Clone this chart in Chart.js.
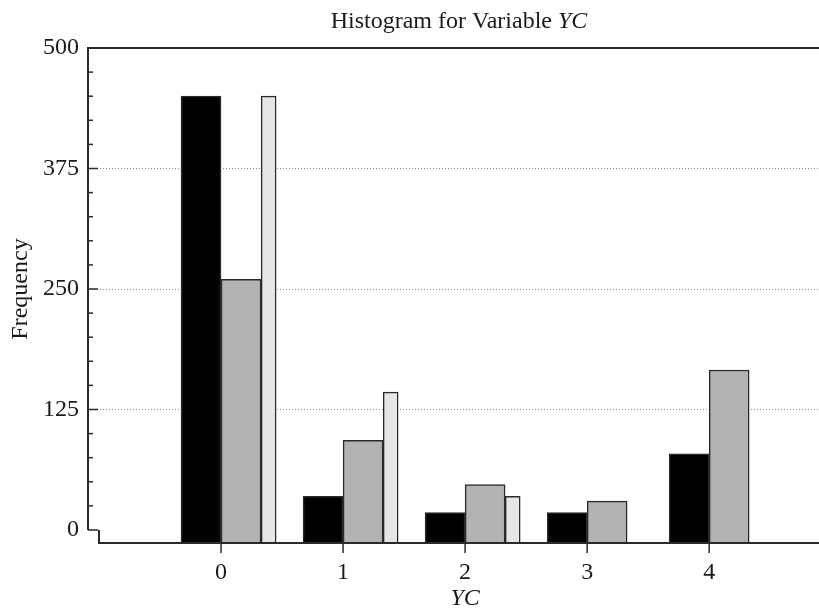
<!DOCTYPE html>
<html>
<head>
<meta charset="utf-8">
<script src="https://cdn.jsdelivr.net/npm/chart.js@4.4.0/dist/chart.umd.min.js"></script>
<style>
  html, body { margin: 0; padding: 0; background: #fff; }
  #wrap { width: 819px; height: 609px; }
</style>
</head>
<body>
<div id="wrap"><canvas id="hist" width="819" height="609"></canvas></div>
<script>
const categories = [0, 1, 2, 3, 4];
const firstSeries = [450, 35, 18, 18, 79];
const secondSeries = [260, 93, 47, 30, 166];
const thirdSeries = [450, 143, 35, null, null];
const yTicks = [0, 125, 250, 375, 500];
const yMinorStep = 25;

const yMin = -13.5; // bars stand on the detached x axis, a little under 0
const serif = "'Liberation Serif', 'DejaVu Serif', serif";
const ink = '#2a2a2a';
const fontPx = 24;

// place each series beside the category tick (offset in category units)
function series(values, shift) {
  return categories.map((c, i) => ({ x: c + shift, y: values[i] }));
}

const frame = {
  id: 'frame',
  beforeDatasetsDraw(chart) {
    const { ctx, chartArea: a, scales: { y } } = chart;
    const axisX = a.left - 11;
    ctx.save();
    ctx.strokeStyle = '#8c8c8c';
    ctx.lineWidth = 1;
    ctx.setLineDash([1, 2]);
    yTicks.slice(1, -1).forEach(v => {
      const py = Math.round(y.getPixelForValue(v)) + 0.5;
      ctx.beginPath();
      ctx.moveTo(axisX, py);
      ctx.lineTo(a.right, py);
      ctx.stroke();
    });
    ctx.restore();
  },
  afterDraw(chart) {
    const { ctx, chartArea: a, scales: { x, y } } = chart;
    const axisX = a.left - 11;
    const top = y.getPixelForValue(yTicks[yTicks.length - 1]);
    const zero = y.getPixelForValue(0);
    ctx.save();
    ctx.strokeStyle = ink;
    ctx.lineWidth = 2;

    // top rule and y axis
    ctx.beginPath();
    ctx.moveTo(a.right, top);
    ctx.lineTo(axisX, top);
    ctx.lineTo(axisX, zero);
    ctx.stroke();

    // y ticks, major and minor
    ctx.lineWidth = 1.5;
    for (let v = 0; v < yTicks[yTicks.length - 1]; v += yMinorStep) {
      const py = y.getPixelForValue(v);
      const len = yTicks.includes(v) ? 10 : 5;
      ctx.beginPath();
      ctx.moveTo(axisX, py);
      ctx.lineTo(axisX + len, py);
      ctx.stroke();
    }

    // step down to the x axis, then the x axis itself
    ctx.lineWidth = 2;
    ctx.beginPath();
    ctx.moveTo(a.left - 1, zero + 1);
    ctx.lineTo(a.left, zero + 1);
    ctx.lineTo(a.left, a.bottom);
    ctx.lineTo(a.right, a.bottom);
    ctx.stroke();

    // x ticks
    ctx.lineWidth = 1.5;
    categories.forEach(c => {
      const px = x.getPixelForValue(c);
      ctx.beginPath();
      ctx.moveTo(px, a.bottom);
      ctx.lineTo(px, a.bottom + 10);
      ctx.stroke();
    });

    // labels
    ctx.fillStyle = '#1a1a1a';
    ctx.font = fontPx + 'px ' + serif;
    ctx.textAlign = 'right';
    ctx.textBaseline = 'middle';
    yTicks.forEach(v => ctx.fillText(String(v), axisX - 9, y.getPixelForValue(v)));

    ctx.textAlign = 'center';
    categories.forEach(c => ctx.fillText(String(c), x.getPixelForValue(c), a.bottom + 30));

    const mid = (categories[0] + categories[categories.length - 1]) / 2;
    ctx.font = 'italic ' + fontPx + 'px ' + serif;
    ctx.fillText('YC', x.getPixelForValue(mid), a.bottom + 56);

    ctx.save();
    ctx.font = fontPx + 'px ' + serif;
    ctx.translate(21, (top + zero) / 2);
    ctx.rotate(-Math.PI / 2);
    ctx.fillText('Frequency', 0, 0);
    ctx.restore();

    // title with italic variable name
    const plain = 'Histogram for Variable ';
    const ital = 'YC';
    ctx.font = fontPx + 'px ' + serif;
    const w1 = ctx.measureText(plain).width;
    ctx.font = 'italic ' + fontPx + 'px ' + serif;
    const w2 = ctx.measureText(ital).width;
    const start = (a.left + a.right) / 2 - (w1 + w2) / 2;
    ctx.textAlign = 'left';
    ctx.font = fontPx + 'px ' + serif;
    ctx.fillText(plain, start, 22);
    ctx.font = 'italic ' + fontPx + 'px ' + serif;
    ctx.fillText(ital, start + w1, 22);
    ctx.restore();
  }
};

const barStyle = {
  borderColor: ink,
  borderWidth: 1.5,
  grouped: false,
  base: yMin
};

new Chart(document.getElementById('hist'), {
  type: 'bar',
  data: {
    datasets: [
      Object.assign({ data: series(firstSeries, -0.164), backgroundColor: '#000000', barThickness: 40 }, barStyle),
      Object.assign({ data: series(secondSeries, 0.164), backgroundColor: '#b3b3b3', barThickness: 40 }, barStyle),
      Object.assign({ data: series(thirdSeries, 0.39), backgroundColor: '#e6e6e6', barThickness: 15 }, barStyle)
    ]
  },
  options: {
    responsive: false,
    animation: false,
    layout: { padding: { left: 99, right: 0, top: 48, bottom: 66 } },
    plugins: {
      legend: { display: false },
      tooltip: { enabled: false },
      title: { display: false }
    },
    scales: {
      x: { type: 'linear', min: -1, max: 4.9, offset: false, display: false },
      y: { min: yMin, max: 500, display: false }
    }
  },
  plugins: [frame]
});
</script>
</body>
</html>
